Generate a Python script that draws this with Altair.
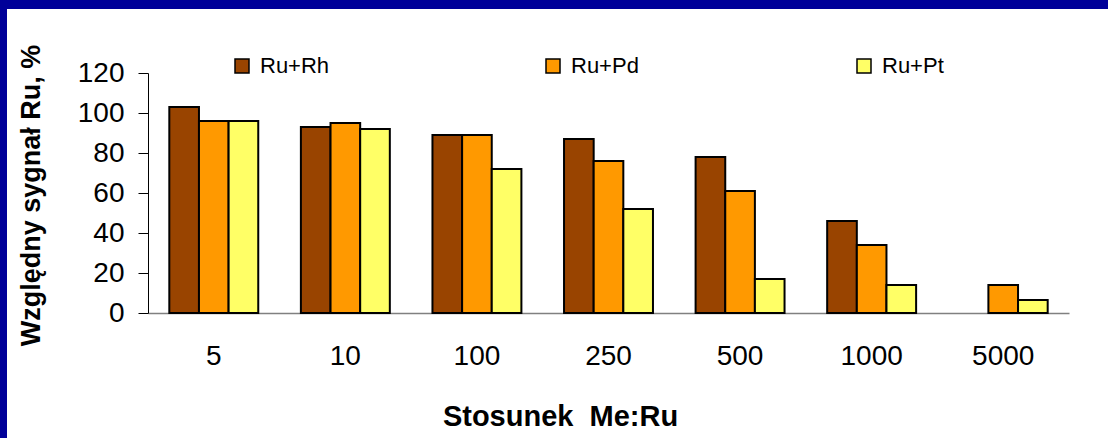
import altair as alt
import pandas as pd

# Ratio categories on the x axis
ratios = ["5", "10", "100", "250", "500", "1000", "5000"]

# Relative Ru signal (%) for each admixture; Ru+Rh has no bar at 5000
ru_rh = [103, 93, 89, 87, 78, 46, None]
ru_pd = [96, 95, 89, 76, 61, 34, 14]
ru_pt = [96, 92, 72, 52, 17, 14, 6.5]

series_names = ["Ru+Rh", "Ru+Pd", "Ru+Pt"]
series_colors = ["#994400", "#FF9900", "#FFFF66"]
y_ticks = [0, 20, 40, 60, 80, 100, 120]

rows = []
for name, vals in zip(series_names, [ru_rh, ru_pd, ru_pt]):
    for r, v in zip(ratios, vals):
        if v is not None:
            rows.append({"ratio": r, "series": name, "value": v})
df = pd.DataFrame(rows)

FONT = "Liberation Sans"
BLUE = "#000099"

bars = alt.Chart(df).mark_bar(stroke="black", strokeWidth=2).encode(
    x=alt.X(
        "ratio:N",
        sort=ratios,
        scale=alt.Scale(paddingInner=0.324, paddingOuter=0.162),
        axis=alt.Axis(
            title="Stosunek\u00a0\u00a0Me:Ru",
            labelAngle=0,
            labelFont=FONT,
            labelFontSize=28,
            labelColor="black",
            labelPadding=29,
            ticks=False,
            domainColor="#808080",
            domainWidth=1.5,
            titleFont=FONT,
            titleFontSize=29,
            titleFontWeight="bold",
            titleColor="black",
            titleX=412,
            titleY=103,
            titleBaseline="middle",
            titleAlign="center",
        ),
    ),
    xOffset=alt.XOffset("series:N", sort=series_names,
                        scale=alt.Scale(paddingInner=0, paddingOuter=0)),
    y=alt.Y(
        "value:Q",
        scale=alt.Scale(domain=[0, 120], nice=False),
        axis=alt.Axis(
            title="Względny sygnał Ru, %",
            values=y_ticks,
            grid=False,
            labelFont=FONT,
            labelFontSize=28,
            labelColor="black",
            labelPadding=14,
            tickSize=10,
            tickColor="black",
            domainColor="black",
            titleFont=FONT,
            titleFontSize=27,
            titleFontWeight="bold",
            titleColor="black",
            titleAngle=270,
            titleX=-117,
            titleY=122,
            titleAlign="center",
            titleBaseline="middle",
        ),
    ),
    color=alt.Color(
        "series:N",
        sort=series_names,
        scale=alt.Scale(domain=series_names, range=series_colors),
        legend=alt.Legend(
            title=None,
            orient="none",
            legendX=83,
            legendY=-18,
            direction="horizontal",
            columns=3,
            gridAlign="all",
            columnPadding=212,
            padding=0,
            symbolType="square",
            symbolSize=196,
            symbolStrokeColor="black",
            symbolStrokeWidth=1.5,
            symbolOpacity=1,
            labelFont=FONT,
            labelFontSize=22,
            labelColor="black",
            labelOffset=7,
        ),
    ),
)

# Dark blue frame along the left and top edges
frame = alt.Chart(alt.Data(values=[{}])).mark_rect(color=BLUE)
frame_left = frame.encode(x=alt.value(-148), x2=alt.value(-141),
                          y=alt.value(-73), y2=alt.value(365))
frame_top = frame.encode(x=alt.value(-148), x2=alt.value(960),
                         y=alt.value(-73), y2=alt.value(-64))

chart = alt.layer(bars, frame_left, frame_top).properties(
    width=921,
    height=240,
    autosize=alt.AutoSizeParams(type="none"),
    padding={"left": 148, "top": 73, "right": 39, "bottom": 125},
    background="white",
).configure_view(stroke=None)

chart.save("out.html", embed_options={"renderer": "svg", "actions": False})
